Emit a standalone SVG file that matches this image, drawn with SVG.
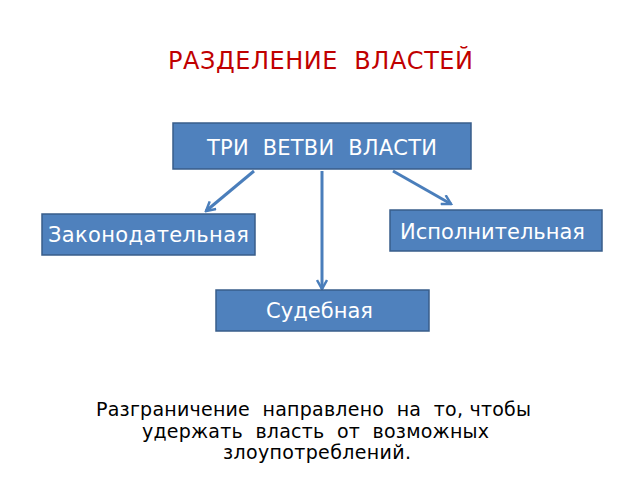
<svg xmlns="http://www.w3.org/2000/svg" width="640" height="480" viewBox="0 0 640 480">
<defs>
<style>
.box{fill:#4f81bd;stroke:#385d8a;stroke-width:1.5}
.bt{fill:#ffffff;font-family:"DejaVu Sans",sans-serif;font-size:21px}
.conn{stroke:#4a7ebb;stroke-width:3;fill:none}
.txt{fill:#000000;font-family:"DejaVu Sans",sans-serif;font-size:19px}
</style>
<marker id="ah" viewBox="0 0 12 12" refX="10" refY="6" markerWidth="12" markerHeight="12" markerUnits="userSpaceOnUse" orient="auto">
<path d="M1,1 L10,6 L1,11" fill="none" stroke="#4a7ebb" stroke-width="2.5"/>
</marker>
</defs>
<rect width="640" height="480" fill="#ffffff"/>
<text x="168" y="69" fill="#c00000" font-family="DejaVu Sans,sans-serif" font-size="24" textLength="305" lengthAdjust="spacing" xml:space="preserve">РАЗДЕЛЕНИЕ  ВЛАСТЕЙ</text>
<g id="connectors">
<line class="conn" x1="254" y1="171" x2="206" y2="211" marker-end="url(#ah)"/>
<line class="conn" x1="322" y1="171" x2="322" y2="289" marker-end="url(#ah)"/>
<line class="conn" x1="393" y1="171" x2="451" y2="204" marker-end="url(#ah)"/>
</g>
<g id="root">
<rect class="box" x="173" y="123" width="298" height="46"/>
<text class="bt" x="207" y="155" textLength="230" lengthAdjust="spacing" xml:space="preserve">ТРИ  ВЕТВИ  ВЛАСТИ</text>
</g>
<g id="leg">
<rect class="box" x="42" y="214" width="213" height="41"/>
<text class="bt" x="48" y="242" textLength="201" lengthAdjust="spacing">Законодательная</text>
</g>
<g id="exec">
<rect class="box" x="390" y="210" width="212" height="41"/>
<text class="bt" x="400" y="239" textLength="185" lengthAdjust="spacing">Исполнительная</text>
</g>
<g id="jud">
<rect class="box" x="216" y="290" width="213" height="41"/>
<text class="bt" x="266" y="318" textLength="107" lengthAdjust="spacing">Судебная</text>
</g>
<text class="txt" x="96" y="416" textLength="435" lengthAdjust="spacing" xml:space="preserve">Разграничение  направлено  на  то, чтобы</text>
<text class="txt" x="142" y="438" textLength="347" lengthAdjust="spacing" xml:space="preserve">удержать  власть  от  возможных</text>
<text class="txt" x="223" y="459" textLength="188" lengthAdjust="spacing">злоупотреблений.</text>
</svg>
